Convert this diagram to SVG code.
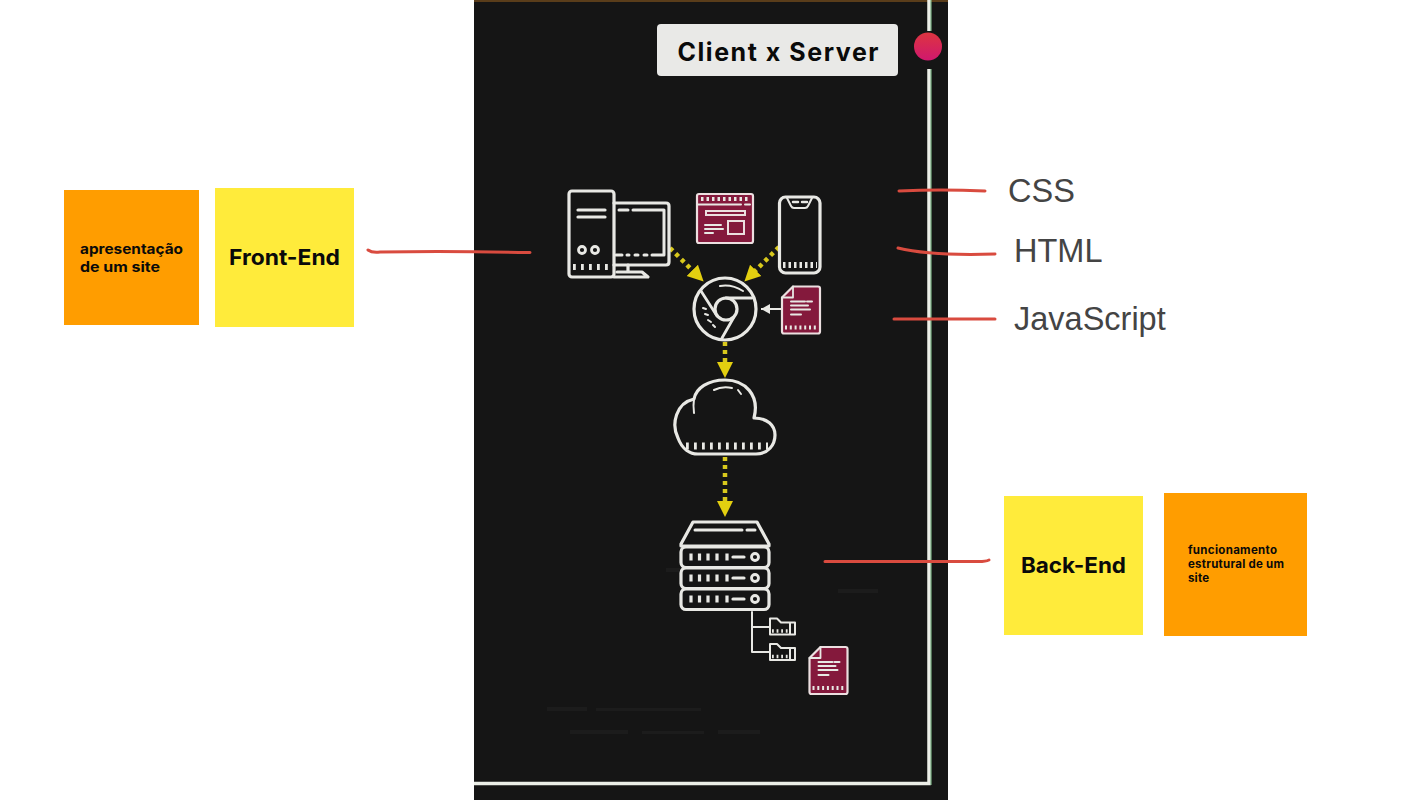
<svg xmlns="http://www.w3.org/2000/svg" xmlns:xlink="http://www.w3.org/1999/xlink" width="1422" height="800" viewBox="0 0 1422 800">
<style>
.i{fill:none;stroke:#e8e8e4;stroke-width:3.200;stroke-linecap:round;stroke-linejoin:round}
.t{fill:none;stroke:#e8e8e4;stroke-width:2;stroke-linecap:round;stroke-linejoin:round}
.d{fill:none;stroke:#e8e8e4}
.m{fill:#84193c;stroke:#ecdfe0;stroke-width:2.200;stroke-linejoin:round}
.y{fill:none;stroke:#d8c81c;stroke-width:4.500;stroke-dasharray:4 4}
.r{fill:none;stroke:#d94b3f;stroke-width:3;stroke-linecap:round}
.l{font:32.5px "Liberation Sans",Arial,sans-serif;fill:#444}
.s{font-family:Inter,"Liberation Sans",sans-serif;font-weight:700;fill:#0a0a0a}
.g{fill:#1c1c1c}
</style>
<defs>
<marker id="yh" markerUnits="userSpaceOnUse" markerWidth="17" markerHeight="18" refX="1" refY="9" orient="auto"><path d="M0 1L16 9L0 17Z" fill="#e3cf10"/></marker>
<marker id="wh" markerUnits="userSpaceOnUse" markerWidth="10" markerHeight="10" refX="9" refY="5" orient="auto"><path d="M0 0L9 5L0 10Z" fill="#e8e8e4"/></marker>
<linearGradient id="dot" x1="0" y1="0" x2="0" y2="1"><stop offset="0" stop-color="#dd3540"/><stop offset="1" stop-color="#d0186e"/></linearGradient>
<g id="doc">
<path class="m" d="M12 1H37Q39 1 39 3V46Q39 48 37 48H3Q1 48 1 46V12Z"/>
<path class="t" d="M12 1V12H1" style="stroke-width:1.800"/>
<path class="t" d="M10 16H24M26 16H31M10 20H27M10 24H29M10 29H20"/>
<path class="d" d="M4 42H36" style="stroke-width:4;stroke-dasharray:2 2.800"/>
</g>
<g id="folder">
<path class="t" d="M1 18V2H8L12 6H21V18ZM21 6H26V18H1"/>
<path class="d" d="M3 14.500H20" style="stroke-width:3.500;stroke-dasharray:1.800 2.800"/>
</g>
<g id="unit">
<rect class="i" x="681" y="0" width="88" height="20.5" rx="5"/>
<path d="M691 6.500V13.500M699.500 6.500V13.500M708 6.500V13.500M717 6.500V13.500M727 6.500V13.500" class="i" style="stroke-linecap:butt"/>
<path class="i" d="M733 10H744"/>
<circle class="i" cx="755" cy="10" r="3.500" style="stroke-width:2.800"/>
</g>
</defs>

<rect id="panel" x="474" y="0" width="474" height="800" fill="#151515"/>
<rect x="474" y="0" width="474" height="2" fill="#5a3d1a"/>
<g id="ghost-marks">
<rect class="g" x="547" y="707" width="40" height="4"/><rect class="g" x="596" y="708" width="105" height="3"/>
<rect class="g" x="570" y="730" width="58" height="4"/><rect class="g" x="642" y="731" width="62" height="3"/><rect class="g" x="718" y="730" width="42" height="4"/>
<rect class="g" x="838" y="589" width="40" height="4"/><rect class="g" x="666" y="568" width="18" height="4"/>
</g>
<g id="frame" fill="none">
<path d="M929 0V783.500H474" stroke="#ecefe8" stroke-width="3.500"/>
<path d="M931 0V785" stroke="#8fd09a" stroke-width="1"/>
</g>

<g id="connectors">
<path class="y" d="M670 248L693 271" marker-end="url(#yh)"/>
<path class="y" d="M779 247L755 271" marker-end="url(#yh)"/>
<path class="y" d="M725 342V363" marker-end="url(#yh)"/>
<path class="y" d="M725 457V502" marker-end="url(#yh)"/>
<path d="M787 309H761" fill="none" stroke="#e8e8e4" stroke-width="2" marker-end="url(#wh)"/>
<path class="t" d="M752 612V652H769M752 627H769"/>
<path class="r" d="M899 191Q940 189 985 191"/>
<path class="r" d="M898 248Q930 256 995 254"/>
<path class="r" d="M894 319H995"/>
<path class="r" d="M368 250Q372 253 380 252Q450 251 530 252.500"/>
<path class="r" d="M825 561.500H975Q985 562 989 560"/>
</g>

<g id="title">
<rect x="657" y="24" width="241" height="52" rx="4" fill="#e9e9e7"/>
<text x="677.500" y="60.500" class="s" font-size="25" textLength="201" lengthAdjust="spacing">Client x Server</text>
</g>
<g id="dot-marker">
<rect x="920" y="31" width="20" height="38" fill="#151515"/>
<circle cx="928" cy="46.500" r="14" fill="url(#dot)"/>
</g>

<g id="computer">
<rect class="i" x="569" y="191" width="45" height="86" rx="3"/>
<path class="i" d="M578 210H605M578 217H605"/>
<circle class="i" cx="582" cy="250" r="3.500" style="stroke-width:2.800"/><circle class="i" cx="595" cy="250" r="3.500" style="stroke-width:2.800"/>
<path class="d" d="M573 267H611" style="stroke-width:6;stroke-dasharray:2.800 5.200"/>
<path class="i" d="M614 203H666Q669 203 669 206V262Q669 265 666 265H614"/>
<path class="i" d="M619 210H628M633 210H664V255H652M616 255H622M627 255H629M635 255H638M644 255H647" style="stroke-width:3"/>
<path class="i" d="M628 265V272M617 272H642L648 277H614"/>
</g>

<g id="window">
<rect class="m" x="697" y="194" width="56" height="49" rx="2"/>
<path class="d" d="M701 199H750" style="stroke-width:4;stroke-dasharray:2.500 3"/>
<path class="t" d="M698 204.500H741M745 204.500H750"/>
<rect x="706" y="211" width="39" height="4" fill="none" stroke="#ecdfe0" stroke-width="2"/>
<rect x="728" y="221" width="16" height="13" fill="none" stroke="#ecdfe0" stroke-width="2"/>
<path class="t" d="M705 225H721M705 229H723M705 233H713"/>
</g>

<g id="phone">
<rect class="i" x="779.500" y="197" width="40.500" height="76" rx="6"/>
<path class="t" d="M787 198L791 206Q792 208 794 208H805Q807 208 808 206L812 198"/>
<path class="t" d="M793 202H798M802 202H807" style="stroke-width:2.500"/>
<path class="d" d="M783 265H817" style="stroke-width:6;stroke-dasharray:2.500 3"/>
</g>

<g id="browser">
<circle class="i" cx="725" cy="309" r="31"/>
<circle class="i" cx="726" cy="309" r="11"/>
<path class="i" d="M701 291L717 316M726 298H752M734 317L722 338" style="stroke-width:2.800"/>
<path class="t" d="M720 286Q732 284 743 291"/>
<path class="t" d="M703 308L706 309M705 314L708 315M708 320L711 322M713 325L715 327"/>
</g>

<use id="doc-browser" xlink:href="#doc" href="#doc" transform="translate(781 285.500)"/>

<g id="cloud">
<path class="i" d="M694 399C676 403 671 424 678 438C682 449 690 454 698 454H756C768 454 775 445 775 435C775 425 767 418 754 418C760 395 745 380 725 380C708 380 696 388 694 399Z"/>
<path class="t" d="M694 399Q693 405 694 413M714 390Q722 386 732 388M738 390L741 394"/>
<path class="d" d="M686 446H768" style="stroke-width:7;stroke-dasharray:2.800 5.200"/>
</g>

<g id="server">
<path class="i" d="M693 522H757L769 544V546H681V544Z"/>
<path class="i" d="M695 530H742M747 530H755" style="stroke-width:3"/>
<use xlink:href="#unit" href="#unit" transform="translate(0 547)"/>
<use xlink:href="#unit" href="#unit" transform="translate(0 568)"/>
<use xlink:href="#unit" href="#unit" transform="translate(0 589)"/>
</g>
<use id="folder-1" xlink:href="#folder" href="#folder" transform="translate(769 616.500)"/>
<use id="folder-2" xlink:href="#folder" href="#folder" transform="translate(769 642)"/>
<use id="doc-server" xlink:href="#doc" href="#doc" transform="translate(808.500 646)"/>

<g id="note-apresentacao">
<rect x="64" y="190" width="135" height="135" fill="#ff9d00"/>
<text class="s" font-size="14" x="80" y="254" textLength="103" lengthAdjust="spacingAndGlyphs">apresentação</text>
<text class="s" font-size="14" x="80" y="272" textLength="80" lengthAdjust="spacingAndGlyphs">de um site</text>
</g>
<g id="note-front-end">
<rect x="215" y="188" width="139" height="139" fill="#ffeb3b"/>
<text class="s" x="229" y="265" font-size="22" textLength="111" lengthAdjust="spacingAndGlyphs">Front-End</text>
</g>
<g id="note-back-end">
<rect x="1004" y="496" width="139" height="139" fill="#ffeb3b"/>
<text class="s" x="1021" y="573" font-size="22" textLength="105" lengthAdjust="spacingAndGlyphs">Back-End</text>
</g>
<g id="note-funcionamento">
<rect x="1164" y="493" width="143" height="143" fill="#ff9d00"/>
<text class="s" font-size="11.500" x="1188" y="554" textLength="89" lengthAdjust="spacing">funcionamento</text>
<text class="s" font-size="11.500" x="1188" y="568" textLength="96" lengthAdjust="spacing">estrutural de um</text>
<text class="s" font-size="11.500" x="1188" y="582" textLength="21" lengthAdjust="spacing">site</text>
</g>

<g id="label-css"><text class="l" x="1008" y="202">CSS</text></g>
<g id="label-html"><text class="l" x="1014" y="262">HTML</text></g>
<g id="label-js"><text class="l" x="1014" y="330">JavaScript</text></g>
</svg>
